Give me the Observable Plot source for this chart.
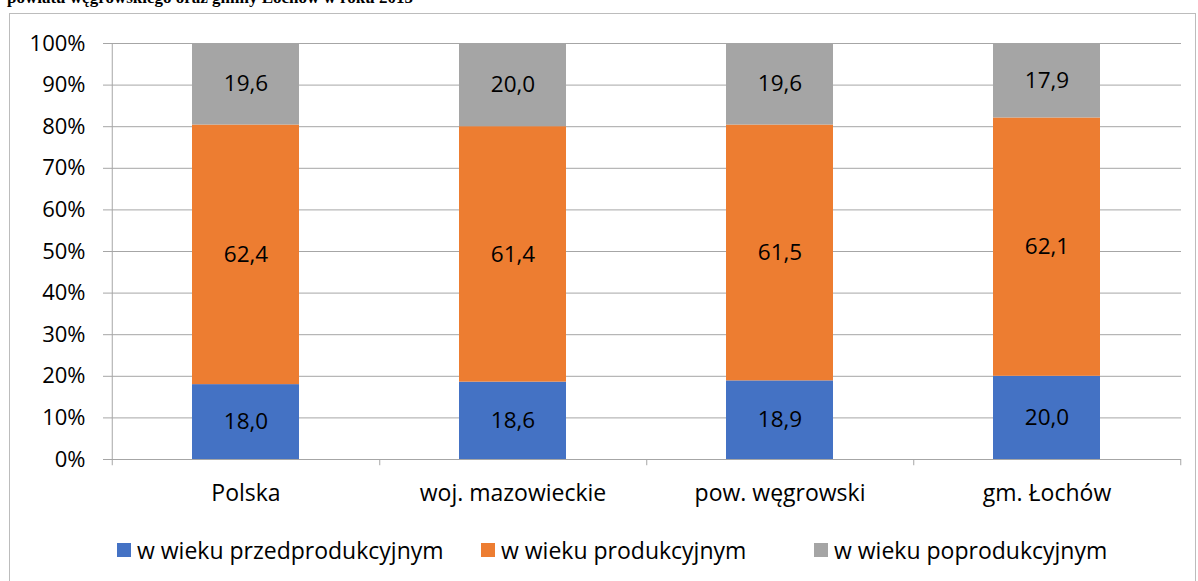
<!DOCTYPE html>
<html>
<head>
<meta charset="utf-8">
<script src="https://cdn.jsdelivr.net/npm/d3@7"></script>
<script src="https://cdn.jsdelivr.net/npm/@observablehq/plot@0.6"></script>
<style>
  html, body { margin: 0; padding: 0; background: #fff; }
  #wrap { position: relative; width: 1198px; height: 581px; overflow: hidden; font-family: "Open Sans", sans-serif; }
  #title { position: absolute; left: 7px; top: -12px; font-family: "Liberation Serif", "Times New Roman", serif; font-weight: bold; font-size: 17px; line-height: 20px; white-space: nowrap; color: #000; }
  #frame { position: absolute; left: 9px; top: 13px; width: 1187px; height: 600px; border: 1px solid #bcbcbc; box-sizing: border-box; }
  #chart { position: absolute; left: 0; top: 0; }
  #legend { position: absolute; top: 535px; left: 0; width: 1198px; height: 30px; font-size: 23px; line-height: 30px; color: #000; }
  .item { position: absolute; top: 0; display: flex; align-items: center; white-space: nowrap; }
  .sw { width: 14px; height: 14px; margin-right: 6px; }
</style>
</head>
<body>
<div id="wrap">
  <div id="title">powiatu węgrowskiego oraz gminy Łochów w roku 2015</div>
  <div id="frame"></div>
  <div id="chart"></div>
  <div id="legend"></div>
</div>
<script>
const categories = ["Polska", "woj. mazowieckie", "pow. węgrowski", "gm. Łochów"];
const seriesNames = ["w wieku przedprodukcyjnym", "w wieku produkcyjnym", "w wieku poprodukcyjnym"];
const przedprodukcyjny = [18.0, 18.6, 18.9, 20.0];
const produkcyjny = [62.4, 61.4, 61.5, 62.1];
const poprodukcyjny = [19.6, 20.0, 19.6, 17.9];
const seriesColors = ["#4472C4", "#ED7D31", "#A5A5A5"];
const yTicks = [0, 10, 20, 30, 40, 50, 60, 70, 80, 90, 100];

const seriesValues = [przedprodukcyjny, produkcyjny, poprodukcyjny];
const data = [];
categories.forEach((c, i) => {
  seriesNames.forEach((s, j) => data.push({category: c, series: s, value: seriesValues[j][i]}));
});

const W = 1198, H = 520, mL = 111, mR = 17, mT = 43, mB = 61;
const step = (W - mL - mR) / categories.length;
const grid = "#a6a6a6";
const fmt = v => v.toFixed(1).replace(".", ",");

const chart = Plot.plot({
  width: W, height: H,
  marginLeft: mL, marginRight: mR, marginTop: mT, marginBottom: mB,
  style: {fontFamily: "'Open Sans', sans-serif", fontSize: "22px", color: "#000", background: "transparent"},
  x: {domain: categories, paddingInner: 0.6, paddingOuter: 0.3, label: null},
  y: {domain: [0, 100], label: null},
  color: {domain: seriesNames, range: seriesColors},
  marks: [
    Plot.ruleY(yTicks, {y: d => d, stroke: grid, strokeWidth: 1}),
    Plot.barY(data, {x: "category", y: "value", z: "series", fill: "series", order: seriesNames}),
    Plot.text(data, Plot.stackY({x: "category", y: "value", z: "series", order: seriesNames, text: d => fmt(d.value), fill: "#000", fontSize: 22.5})),
    Plot.ruleX([categories[0]], {x: d => d, dx: -step / 2, y1: -1.5, y2: 100, stroke: grid}),
    Plot.ruleX(categories, {x: d => d, dx: step / 2, y1: -1.5, y2: 0, stroke: grid}),
    Plot.axisY({ticks: yTicks, tickSize: 8, tickPadding: 18, tickFormat: d => d + "%", stroke: grid, fill: "#000", fontSize: 22}),
    Plot.axisX({tickSize: 0, tickPadding: 25, fill: "#000", fontSize: 23})
  ]
});
document.getElementById("chart").appendChild(chart);

const legendPos = [117, 481, 814];
const legend = document.getElementById("legend");
seriesNames.forEach((s, i) => {
  const it = document.createElement("div");
  it.className = "item";
  it.style.left = legendPos[i] + "px";
  const sw = document.createElement("div");
  sw.className = "sw";
  sw.style.background = seriesColors[i];
  const t = document.createElement("span");
  t.textContent = s;
  it.appendChild(sw); it.appendChild(t);
  legend.appendChild(it);
});
</script>
</body>
</html>
